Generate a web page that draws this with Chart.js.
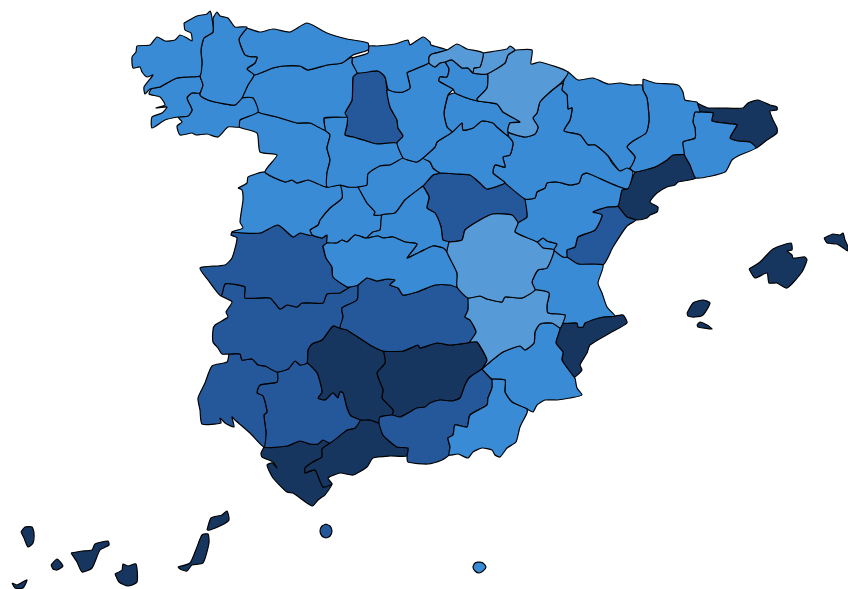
<!DOCTYPE html>
<html>
<head>
<meta charset="utf-8">
<title>Spain provinces</title>
<script src="https://cdn.jsdelivr.net/npm/chart.js@4/dist/chart.umd.min.js"></script>
<style>
body { margin: 0; background: #fff; }
canvas { display: block; }
</style>
</head>
<body>
<canvas id="mapChart" width="848" height="589"></canvas>
<script>
// province outlines, in map units
const coruna = [[184,23],[197,16],[207,14],[210,11],[212,18],[213,32],[204,38],[201,50],[202,63],[200,76],[188,77],[177,78],[167,83],[160,87],[150,89],[145,94],[144,87],[153,75],[147,77],[142,72],[140,67],[133,68],[132,57],[136,52],[137,46],[150,45],[157,37],[165,41],[175,40],[180,35],[187,38],[192,41],[191,33],[185,30]];
const lugo = [[213,18],[217,12],[220,16],[228,18],[235,27],[247,27],[239,39],[245,55],[252,57],[257,57],[255,63],[247,69],[254,75],[248,85],[242,98],[235,105],[220,103],[208,100],[200,95],[203,85],[200,76],[202,63],[201,50],[204,38],[213,32]];
const pontevedra = [[200,76],[188,77],[177,78],[167,83],[160,87],[152,88],[149,94],[160,97],[165,105],[156,108],[167,107],[162,113],[152,117],[152,128],[165,120],[178,117],[188,116],[192,110],[187,98],[192,93],[200,93],[203,85]];
const ourense = [[200,95],[208,100],[220,103],[235,105],[242,98],[253,98],[258,112],[240,120],[239,127],[228,127],[218,137],[207,134],[196,135],[192,133],[180,135],[177,126],[182,122],[178,117],[188,116],[192,110],[187,98],[192,93],[200,93]];
const asturias = [[247,28],[260,32],[273,29],[290,32],[307,23],[327,33],[347,39],[368,43],[368,50],[353,55],[342,63],[327,65],[308,70],[300,66],[283,66],[273,68],[263,72],[254,75],[247,69],[255,63],[257,57],[252,57],[245,55],[239,39]];
const leon = [[254,75],[263,72],[273,68],[283,66],[300,66],[308,70],[327,65],[342,63],[352,57],[352,63],[357,73],[353,77],[352,100],[345,113],[347,117],[324,118],[325,130],[310,123],[297,123],[277,117],[258,112],[253,98],[242,98],[248,85]];
const palencia = [[357,73],[378,71],[385,77],[387,90],[390,107],[397,120],[398,128],[403,136],[397,143],[377,144],[363,140],[353,137],[345,135],[347,125],[345,113],[352,100],[353,77]];
const cantabria = [[352,58],[368,53],[369,46],[377,46],[395,44],[408,40],[410,45],[423,37],[430,42],[431,45],[447,50],[432,54],[429,57],[429,63],[408,72],[407,73],[410,88],[403,92],[395,92],[388,89],[385,77],[378,71],[357,73],[352,63]];
const vizcaya = [[429,57],[432,54],[447,50],[457,44],[467,49],[483,53],[480,67],[474,68],[473,73],[468,68],[462,68],[452,60],[445,62],[440,63],[435,67],[429,63]];
const gipuzkoa = [[483,53],[507,49],[510,46],[515,50],[508,55],[505,63],[487,74],[473,73],[474,68],[480,67]];
const navarra = [[515,50],[532,50],[531,64],[540,62],[568,72],[562,82],[550,92],[540,102],[537,113],[533,118],[538,127],[535,134],[525,137],[508,132],[510,123],[520,122],[503,112],[497,104],[478,101],[477,99],[487,88],[488,75],[487,74],[505,63],[508,55]];
const alava = [[445,62],[449,69],[447,77],[440,77],[439,81],[453,89],[455,93],[467,98],[478,101],[477,99],[487,88],[488,75],[487,74],[473,73],[468,68],[462,68],[452,60]];
const trevino = [[455,88],[455,85],[463,83],[468,85],[473,93],[462,91]];
const burgos = [[408,72],[429,63],[435,67],[440,63],[445,62],[449,69],[447,77],[440,77],[439,81],[453,89],[448,95],[444,113],[447,127],[452,132],[443,138],[437,142],[435,147],[423,158],[417,162],[408,160],[403,158],[397,143],[403,136],[398,128],[397,120],[390,107],[387,90],[395,92],[403,92],[410,88],[407,73]];
const rioja = [[448,95],[455,93],[467,98],[478,101],[497,104],[503,112],[520,122],[510,123],[508,132],[508,136],[497,127],[493,123],[482,121],[473,128],[463,130],[462,123],[452,132],[447,127],[444,113]];
const soria = [[452,132],[462,123],[463,130],[473,128],[482,121],[493,123],[497,127],[508,136],[513,143],[510,155],[503,157],[505,167],[495,165],[493,173],[499,178],[505,183],[487,189],[480,183],[470,175],[457,174],[443,173],[440,173],[433,168],[430,162],[423,158],[435,147],[437,142],[443,138]];
const zaragoza = [[508,132],[525,137],[535,134],[538,127],[533,118],[537,113],[540,102],[550,92],[563,83],[562,90],[567,95],[568,109],[572,108],[570,120],[564,131],[580,135],[588,145],[595,145],[608,156],[612,163],[620,171],[627,168],[633,172],[627,189],[587,173],[582,175],[579,183],[570,185],[557,182],[547,183],[545,188],[537,192],[535,198],[525,199],[505,183],[499,178],[493,173],[495,165],[505,167],[503,157],[510,155],[513,143],[508,136]];
const huesca = [[563,83],[566,75],[568,72],[578,80],[593,78],[608,84],[620,83],[632,85],[642,85],[643,90],[647,98],[649,120],[646,133],[633,141],[627,147],[635,157],[630,168],[620,171],[608,156],[595,145],[588,145],[580,135],[564,131],[570,120],[572,108],[568,109],[567,95],[562,90]];
const lleida = [[643,79],[655,83],[678,85],[683,92],[685,100],[697,102],[698,105],[700,112],[695,112],[693,122],[695,128],[695,138],[683,142],[684,154],[673,155],[667,160],[655,167],[635,172],[630,168],[635,157],[627,147],[633,141],[646,133],[649,120],[647,98],[643,90]];
const girona = [[697,103],[708,108],[722,108],[743,108],[748,103],[758,100],[770,105],[777,107],[777,110],[770,111],[773,120],[777,128],[777,133],[767,140],[756,148],[750,142],[738,141],[730,138],[737,125],[733,124],[712,121],[713,113],[700,112],[698,105]];
const barcelona = [[700,112],[713,113],[712,121],[733,124],[737,125],[730,138],[738,141],[750,142],[756,148],[740,155],[732,160],[725,172],[696,178],[690,165],[684,154],[683,142],[695,138],[695,128],[693,122],[695,112]];
const tarragona = [[635,172],[655,167],[667,160],[673,155],[684,154],[690,165],[696,178],[678,182],[675,185],[667,187],[657,193],[650,202],[658,207],[657,212],[650,215],[647,218],[637,220],[627,217],[618,206],[622,190],[627,189]];
const castellon = [[618,206],[607,207],[593,212],[602,215],[595,230],[578,237],[575,247],[567,250],[567,257],[578,264],[603,265],[613,247],[627,226],[636,220],[627,217]];
const teruel = [[525,199],[535,198],[537,192],[545,188],[547,183],[557,182],[570,185],[579,183],[582,175],[587,173],[627,189],[622,190],[618,206],[607,207],[593,212],[602,215],[595,230],[578,237],[575,247],[567,250],[567,257],[563,257],[554,250],[557,244],[547,241],[543,238],[537,242],[515,232],[518,223],[527,217]];
const valencia = [[554,250],[563,257],[567,257],[578,264],[603,265],[598,283],[602,293],[607,307],[615,316],[603,317],[585,323],[583,327],[578,327],[577,323],[563,323],[565,315],[548,313],[547,305],[549,293],[535,290],[532,282],[538,270],[547,268]];
const ademuz = [[537,242],[543,238],[547,241],[557,244],[554,250],[543,248]];
const cuenca = [[449,242],[462,240],[465,230],[480,220],[493,214],[512,215],[518,223],[515,232],[537,242],[543,248],[554,250],[547,268],[538,270],[532,282],[535,290],[522,298],[505,297],[502,302],[487,299],[480,296],[468,298],[457,287],[457,273],[447,252]];
const guadalajara = [[423,186],[433,175],[440,173],[443,173],[457,174],[470,175],[480,183],[487,189],[505,183],[525,199],[527,217],[518,223],[512,215],[493,214],[480,220],[465,230],[462,240],[449,242],[443,240],[441,227],[435,213],[427,208],[429,197]];
const albacete = [[468,298],[480,296],[487,299],[502,302],[505,297],[522,298],[535,290],[549,293],[547,305],[548,313],[565,315],[563,323],[560,328],[552,323],[540,324],[535,332],[534,343],[525,350],[520,346],[503,352],[490,362],[482,369],[487,360],[477,342],[470,342],[476,332],[470,320],[465,317],[468,310]];
const ciudadReal = [[358,285],[367,278],[377,281],[387,279],[395,280],[390,285],[398,288],[403,295],[417,292],[435,285],[450,285],[457,287],[468,298],[468,310],[465,317],[470,320],[476,332],[470,342],[467,343],[450,345],[437,343],[420,348],[418,345],[403,351],[383,351],[370,345],[347,330],[340,328],[343,317],[342,308],[357,300]];
const toledo = [[323,246],[327,243],[337,243],[342,240],[347,242],[355,235],[365,238],[367,238],[378,236],[383,238],[393,237],[405,242],[417,244],[407,258],[420,252],[433,246],[443,248],[447,252],[457,273],[457,287],[450,285],[435,285],[417,292],[403,295],[398,288],[390,285],[395,280],[387,279],[377,281],[367,278],[358,285],[350,287],[347,287],[333,277],[332,267],[326,258]];
const madrid = [[423,186],[429,197],[427,208],[435,213],[441,227],[443,240],[449,242],[447,252],[443,248],[433,246],[420,252],[407,258],[417,244],[405,242],[393,237],[383,238],[378,236],[367,238],[373,232],[380,230],[382,215],[395,213],[405,200]];
const segovia = [[358,187],[367,185],[368,174],[380,166],[390,165],[403,158],[408,160],[417,162],[423,158],[430,162],[433,168],[440,173],[433,175],[423,186],[405,200],[395,213],[382,215],[374,215],[375,212],[367,203]];
const valladolid = [[324,118],[347,117],[347,125],[345,135],[353,137],[363,140],[377,144],[397,143],[403,158],[390,165],[380,166],[368,174],[367,185],[358,187],[348,187],[340,185],[327,187],[327,173],[330,160],[327,148],[330,135],[325,130]];
const zamora = [[258,112],[277,117],[297,123],[310,123],[325,130],[330,135],[327,148],[330,160],[327,173],[327,187],[308,180],[297,183],[292,180],[285,182],[265,172],[277,155],[260,152],[257,133],[239,127],[240,120]];
const salamanca = [[238,188],[247,183],[248,177],[265,172],[285,182],[292,180],[297,183],[308,180],[327,187],[340,185],[342,198],[330,208],[320,220],[318,225],[310,230],[312,235],[308,235],[300,233],[293,237],[278,225],[260,233],[232,232],[243,228],[240,222],[243,200],[242,190]];
const avila = [[340,185],[348,187],[358,187],[367,203],[375,212],[374,215],[382,215],[380,230],[373,232],[367,238],[365,238],[355,235],[347,242],[342,240],[337,243],[327,243],[327,235],[322,238],[312,235],[310,230],[318,225],[320,220],[330,208],[342,198]];
const caceres = [[232,232],[260,233],[278,225],[293,237],[300,233],[308,235],[312,235],[322,238],[327,235],[327,243],[323,246],[326,258],[332,267],[333,277],[347,287],[350,287],[345,290],[340,293],[327,294],[323,303],[312,303],[302,303],[297,307],[287,305],[280,309],[270,298],[245,298],[245,287],[233,284],[225,284],[221,296],[208,280],[200,268],[225,265],[232,258],[237,238],[231,235]];
const badajoz = [[221,296],[225,284],[233,284],[245,287],[245,298],[270,298],[280,309],[287,305],[297,307],[302,303],[312,303],[323,303],[327,294],[340,293],[345,290],[350,287],[358,285],[357,300],[342,308],[343,317],[340,328],[333,326],[322,340],[312,344],[308,350],[307,363],[300,365],[295,361],[288,369],[277,372],[265,366],[258,365],[252,359],[242,360],[240,354],[229,354],[222,354],[218,348],[213,342],[213,330],[215,325],[228,317],[226,312],[232,302]];
const huelva = [[229,354],[240,354],[242,360],[252,359],[258,365],[265,366],[277,372],[277,382],[260,385],[257,393],[263,396],[267,412],[264,415],[266,433],[264,447],[250,433],[235,420],[232,417],[234,427],[225,423],[220,418],[221,423],[202,424],[200,410],[198,398],[205,383],[212,366],[227,362]];
const sevilla = [[277,372],[288,369],[295,361],[300,365],[307,363],[317,373],[322,392],[318,398],[325,400],[333,393],[338,398],[340,392],[343,393],[347,408],[351,416],[360,420],[355,428],[347,430],[330,443],[323,440],[318,444],[310,444],[300,441],[287,446],[264,447],[266,433],[264,415],[267,412],[263,396],[257,393],[260,385],[277,382]];
const cordoba = [[307,363],[308,350],[312,344],[322,340],[333,326],[340,328],[347,330],[370,345],[383,351],[385,363],[377,373],[383,390],[382,398],[393,410],[392,415],[380,417],[379,423],[370,420],[360,420],[351,416],[347,408],[343,393],[340,392],[338,398],[333,393],[325,400],[318,398],[322,392],[317,373]];
const jaen = [[383,351],[403,351],[418,345],[420,348],[437,343],[450,345],[467,343],[470,342],[477,342],[487,360],[482,369],[470,377],[465,385],[460,398],[452,401],[440,400],[430,403],[425,407],[417,408],[408,413],[400,417],[392,415],[393,410],[382,398],[383,390],[377,373],[385,363]];
const granada = [[482,369],[490,378],[493,381],[492,388],[488,398],[487,405],[470,415],[467,427],[455,425],[453,435],[448,438],[450,447],[449,455],[442,460],[428,464],[408,462],[407,456],[408,448],[397,447],[383,435],[379,423],[380,417],[392,415],[400,417],[408,413],[417,408],[425,407],[430,403],[440,400],[452,401],[460,398],[465,385],[470,377]];
const almeria = [[492,379],[505,380],[505,392],[512,402],[527,409],[527,413],[520,427],[516,442],[507,448],[500,457],[495,455],[492,450],[482,448],[473,452],[468,458],[458,454],[449,455],[450,447],[448,438],[453,435],[455,425],[467,427],[470,415],[487,405],[488,398],[492,388]];
const murcia = [[482,369],[490,362],[503,352],[520,346],[525,350],[534,343],[535,332],[540,324],[552,323],[560,328],[556,343],[563,352],[562,360],[574,377],[575,378],[577,388],[582,395],[570,398],[557,400],[545,400],[537,405],[533,412],[527,409],[512,402],[505,392],[505,380],[492,379]];
const alicante = [[563,323],[577,323],[578,327],[583,327],[585,323],[603,317],[615,316],[623,315],[627,323],[610,333],[590,345],[587,353],[580,365],[582,370],[574,377],[562,360],[563,352],[556,343],[560,328]];
const malaga = [[305,473],[305,468],[313,462],[322,457],[322,449],[330,443],[347,430],[355,428],[360,420],[370,420],[379,423],[383,435],[397,447],[408,448],[407,456],[390,456],[373,458],[367,467],[353,475],[340,473],[328,478],[332,484],[323,487],[315,470]];
const cadiz = [[264,447],[287,446],[300,441],[310,444],[318,444],[323,440],[330,443],[322,449],[322,457],[313,462],[305,468],[305,473],[315,470],[323,487],[332,484],[325,495],[322,497],[318,500],[312,506],[293,493],[287,492],[273,478],[267,465],[272,463],[277,468],[273,462],[262,457],[261,453]];
const ceuta = [[326,524],[330,526],[332,531],[330,536],[326,538],[322,536],[320,531],[322,526]];
const melilla = [[479,562],[483,563],[486,567],[483,571],[479,573],[475,571],[473,567],[475,563]];
const mallorca = [[749,269],[760,262],[773,249],[791,243],[792,250],[787,251],[792,255],[793,258],[805,257],[807,260],[802,272],[787,288],[777,283],[769,283],[767,273],[755,278]];
const menorca = [[824,238],[833,234],[840,235],[843,233],[845,240],[848,247],[848,251],[837,244],[827,243]];
const ibiza = [[687,313],[693,303],[703,300],[710,303],[703,315],[695,317],[688,316]];
const formentera = [[697,325],[700,322],[707,325],[712,329],[703,328],[698,327]];
const laPalma = [[21,532],[25,527],[32,527],[34,533],[33,543],[28,547],[24,538]];
const elHierro = [[12,583],[17,585],[21,583],[27,580],[23,588],[15,588]];
const laGomera = [[51,565],[57,559],[63,566],[57,570],[53,569]];
const tenerife = [[71,553],[82,551],[92,550],[95,544],[108,541],[109,545],[100,550],[92,568],[82,572],[77,562]];
const granCanaria = [[115,574],[122,570],[123,564],[128,566],[136,564],[137,582],[128,586],[119,582]];
const fuerteventura = [[178,567],[190,563],[197,547],[202,535],[208,534],[209,543],[203,563],[192,565],[187,571],[180,569]];
const lanzarote = [[207,530],[211,518],[222,515],[227,511],[229,520],[222,525],[210,530]];

// the four classes of the choropleth, one list of outlines per class
const classColors = ['#569ad8', '#3a8bd5', '#25589b', '#163660'];
const classLightest = [vizcaya, gipuzkoa, navarra, cuenca, albacete];
const classLight = [coruna, lugo, pontevedra, ourense, asturias, leon, cantabria, alava, trevino, burgos, rioja, soria, zaragoza, huesca, lleida, barcelona, teruel, valencia, ademuz, toledo, madrid, segovia, valladolid, zamora, salamanca, avila, almeria, murcia, melilla];
const classMid = [palencia, castellon, guadalajara, ciudadReal, caceres, badajoz, huelva, sevilla, granada, ceuta];
const classDark = [girona, tarragona, cordoba, jaen, alicante, malaga, cadiz, mallorca, menorca, ibiza, formentera, laPalma, elHierro, laGomera, tenerife, granCanaria, fuerteventura, lanzarote];
const classes = [classLightest, classLight, classMid, classDark];

function toDataset(outline, color) {
    return {
        data: outline.concat([outline[0]]).map(function (p) {
            return { x: p[0], y: p[1] };
        }),
        showLine: true,
        fill: 'shape',
        backgroundColor: color,
        borderColor: '#000',
        borderWidth: 1.2,
        pointRadius: 0,
        tension: 0.2,
    };
}

const datasets = [];
classes.forEach(function (outlines, i) {
    outlines.forEach(function (outline) {
        datasets.push(toDataset(outline, classColors[i]));
    });
});

new Chart(document.getElementById('mapChart'), {
    type: 'scatter',
    data: { datasets: datasets },
    options: {
        responsive: false,
        animation: false,
        layout: { padding: 0 },
        plugins: {
            legend: { display: false },
            tooltip: { enabled: false },
        },
        scales: {
            x: { type: 'linear', min: 0, max: 848, display: false },
            y: { type: 'linear', min: 0, max: 589, reverse: true, display: false },
        },
    },
});
</script>
</body>
</html>
